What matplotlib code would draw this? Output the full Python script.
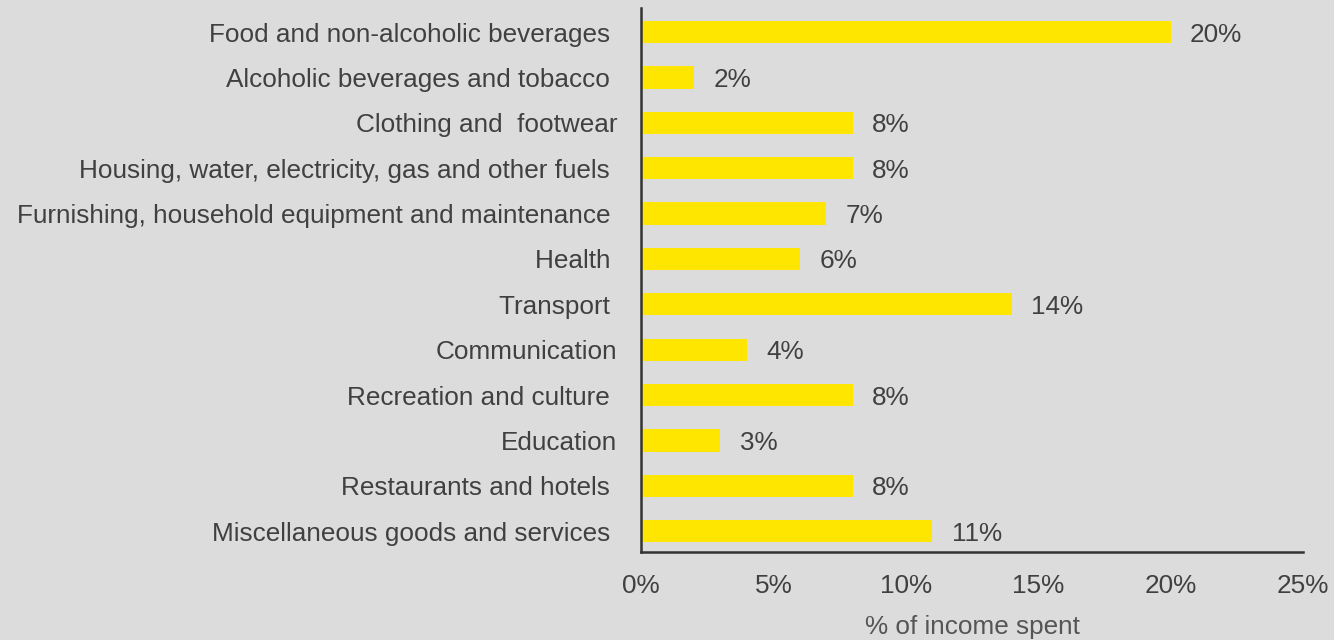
import matplotlib.pyplot as plt
import numpy as np

plt.rcParams['font.family'] = ['Liberation Sans', 'DejaVu Sans']

categories = [
    'Food and non-alcoholic beverages ',
    'Alcoholic beverages and tobacco ',
    'Clothing and  footwear',
    'Housing, water, electricity, gas and other fuels ',
    'Furnishing, household equipment and maintenance ',
    'Health ',
    'Transport ',
    'Communication',
    'Recreation and culture ',
    'Education',
    'Restaurants and hotels ',
    'Miscellaneous goods and services ',
]
shares = [20, 2, 8, 8, 7, 6, 14, 4, 8, 3, 8, 11]
xticks = [0, 5, 10, 15, 20, 25]

BG = '#dcdcdc'
BAR = '#ffe600'
TEXT = '#404040'
FS = 18.8

fig = plt.figure(figsize=(13.34, 6.4), dpi=100, facecolor=BG)
ax = fig.add_axes([641 / 1334, 1 - 552 / 640, 662 / 1334, 544 / 640])
ax.set_facecolor(BG)

y = np.arange(len(categories))
ax.barh(y, shares, height=0.49, color=BAR)
for yi, v in zip(y, shares):
    ax.annotate(f'{v}%', (v, yi), xytext=(14, 0), textcoords='offset points',
                va='center_baseline', ha='left', fontsize=FS, color=TEXT)

ax.set_xlim(0, 25)
ax.set_ylim(11.46, -0.53)
ax.set_yticks(y)
ax.set_yticklabels(categories, fontsize=FS, color=TEXT)
ax.set_xticks(xticks)
ax.set_xticklabels([f'{t}%' for t in xticks], fontsize=FS, color=TEXT)
ax.tick_params(length=0)
ax.tick_params(axis='y', pad=17)
ax.tick_params(axis='x', pad=16)
ax.set_xlabel('% of income spent', fontsize=FS, color='#555555', labelpad=12)

for side in ['top', 'right']:
    ax.spines[side].set_visible(False)
for side in ['left', 'bottom']:
    ax.spines[side].set_color('#333333')
    ax.spines[side].set_linewidth(1.8)

fig.savefig('out.png', dpi=100, facecolor=BG)
